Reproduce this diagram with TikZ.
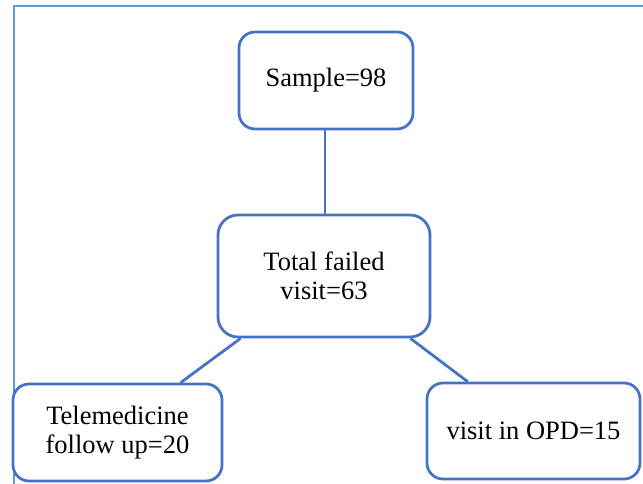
\documentclass[tikz,border=0pt]{standalone}
\usepackage{fontspec}
\setmainfont{Liberation Serif}
\definecolor{boxblue}{RGB}{68,114,196}
\definecolor{frameblue}{RGB}{91,155,213}
\tikzset{
  flowbox/.style={draw=boxblue, line width=2.75pt, fill=white, rectangle,
    rounded corners=16pt, align=center, inner sep=0pt,
    font=\fontsize{26.5}{28.5}\selectfont},
  link/.style={draw=boxblue, line width=2.75pt}
}
\begin{document}
\begin{tikzpicture}[x=1pt, y=-1pt]
  \useasboundingbox (0,0) rectangle (643,484);
  \begin{scope}
    \clip (0,0) rectangle (643,484);
    % outer frame
    \draw[frameblue, line width=2.2pt] (14,500) -- (14,6) -- (660,6);
  \end{scope}

  \node[flowbox, minimum width=174pt, minimum height=97pt] (sample) at (326,80.5) {Sample=98};
  \node[flowbox, minimum width=212pt, minimum height=122pt, rounded corners=20pt] (total) at (324,276) {Total failed\\visit=63};
  \node[flowbox, minimum width=209pt, minimum height=97pt] (tele) at (117.5,432.5) {Telemedicine\\follow up=20};
  \node[flowbox, minimum width=213pt, minimum height=96pt] (opd) at (533.5,431) {visit in OPD=15};

  \draw[link] (sample.south -| 325,0) -- (total.north -| 325,0);
  \draw[link] ([xshift=24pt]total.south west) -- ([xshift=169pt]tele.north west);
  \draw[link] ([xshift=-21pt]total.south east) -- ([xshift=42pt]opd.north west);
\end{tikzpicture}
\end{document}
